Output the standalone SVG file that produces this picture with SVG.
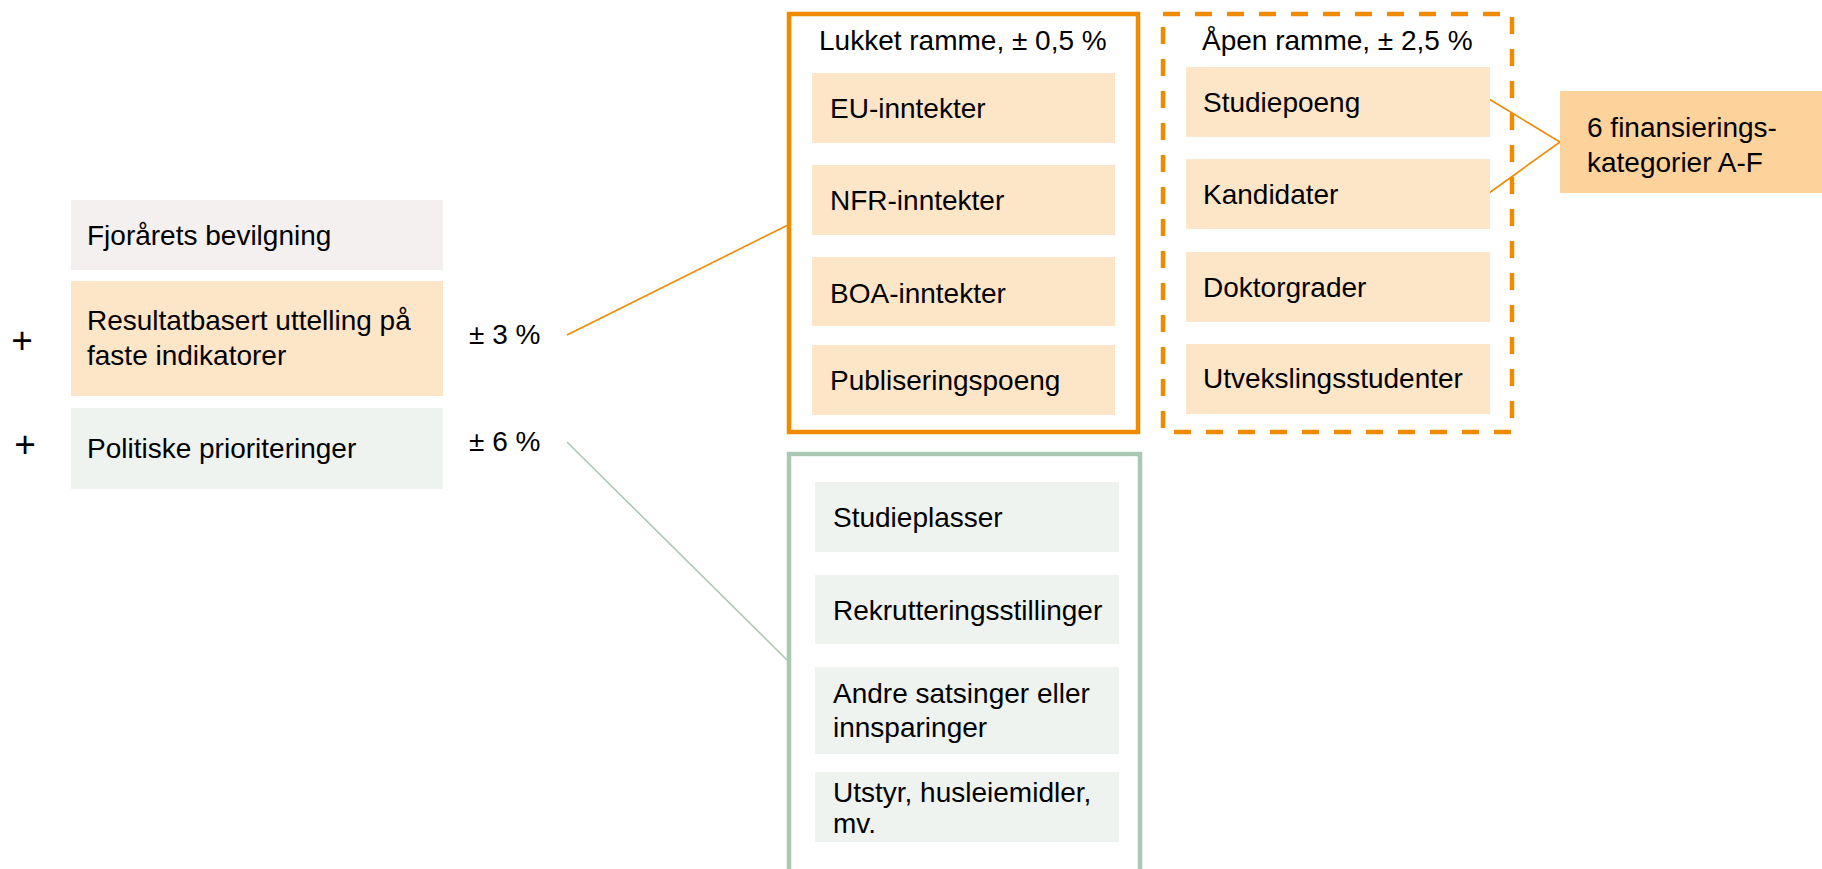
<svg xmlns="http://www.w3.org/2000/svg" width="1822" height="869" viewBox="0 0 1822 869">
<style>
text{font-family:"Liberation Sans",Arial,sans-serif;font-size:28px;fill:#000}
.plus{font-size:37px}
.grey{fill:#F4F0EF}
.peach{fill:#FDE6C8}
.green{fill:#EFF3EF}
.dark{fill:#FDD39B}
.frameO{fill:none;stroke:#F08A00;stroke-width:4.5}
.frameD{fill:none;stroke:#F08A00;stroke-width:4.5;stroke-dasharray:17 15}
.frameG{fill:none;stroke:#A9C9B5;stroke-width:4.5}
.lo{stroke:#F08A00;stroke-width:1.6;fill:none}
.lg{stroke:#A9C9B5;stroke-width:1.6;fill:none}
</style>
<rect width="1822" height="869" fill="#fff"/>
<g id="connectors">
<line class="lo" x1="567" y1="335" x2="788" y2="225"/>
<line class="lg" x1="567" y1="442" x2="788" y2="661"/>
<polyline class="lo" points="1489,99 1560,142 1489,193"/>
</g>
<g id="plus1"><text class="plus" x="22" y="353" text-anchor="middle">+</text></g>
<g id="plus2"><text class="plus" x="25" y="457" text-anchor="middle">+</text></g>
<g id="fjoraret"><rect class="grey" x="71" y="200" width="372" height="70"/><text x="87" y="245">Fjorårets bevilgning</text></g>
<g id="resultat"><rect class="peach" x="71" y="281" width="372" height="115"/><text x="87" y="330">Resultatbasert uttelling på</text><text x="87" y="365">faste indikatorer</text></g>
<g id="politiske"><rect class="green" x="71" y="408" width="372" height="81"/><text x="87" y="458">Politiske prioriteringer</text></g>
<g id="pct3"><text x="469" y="344">± 3 %</text></g>
<g id="pct6"><text x="469" y="451">± 6 %</text></g>
<g id="lukket">
<rect class="frameO" x="789" y="14" width="349" height="418"/>
<text x="819" y="50">Lukket ramme, ± 0,5 %</text>
</g>
<g id="eu"><rect class="peach" x="812" y="73" width="303" height="70"/><text x="830" y="118">EU-inntekter</text></g>
<g id="nfr"><rect class="peach" x="812" y="165" width="303" height="70"/><text x="830" y="210">NFR-inntekter</text></g>
<g id="boa"><rect class="peach" x="812" y="257" width="303" height="69"/><text x="830" y="303">BOA-inntekter</text></g>
<g id="publ"><rect class="peach" x="812" y="345" width="303" height="70"/><text x="830" y="390">Publiseringspoeng</text></g>
<g id="apen">
<rect class="frameD" x="1163" y="14" width="349" height="418"/>
<text x="1202" y="50">Åpen ramme, ± 2,5 %</text>
</g>
<g id="studiepoeng"><rect class="peach" x="1186" y="67" width="304" height="70"/><text x="1203" y="112">Studiepoeng</text></g>
<g id="kandidater"><rect class="peach" x="1186" y="159" width="304" height="70"/><text x="1203" y="204">Kandidater</text></g>
<g id="doktorgrader"><rect class="peach" x="1186" y="252" width="304" height="70"/><text x="1203" y="297">Doktorgrader</text></g>
<g id="utveksling"><rect class="peach" x="1186" y="344" width="304" height="70"/><text x="1203" y="388">Utvekslingsstudenter</text></g>
<g id="kategorier"><rect class="dark" x="1560" y="91" width="262" height="102"/><text x="1587" y="137">6 finansierings-</text><text x="1587" y="172">kategorier A-F</text></g>
<g id="politisk-ramme"><rect class="frameG" x="789" y="454" width="351" height="430"/></g>
<g id="studieplasser"><rect class="green" x="815" y="482" width="304" height="70"/><text x="833" y="527">Studieplasser</text></g>
<g id="rekruttering"><rect class="green" x="815" y="575" width="304" height="69"/><text x="833" y="620">Rekrutteringsstillinger</text></g>
<g id="andre"><rect class="green" x="815" y="667" width="304" height="87"/><text x="833" y="703">Andre satsinger eller</text><text x="833" y="737">innsparinger</text></g>
<g id="utstyr"><rect class="green" x="815" y="772" width="304" height="70"/><text x="833" y="802">Utstyr, husleiemidler,</text><text x="833" y="833">mv.</text></g>
</svg>
